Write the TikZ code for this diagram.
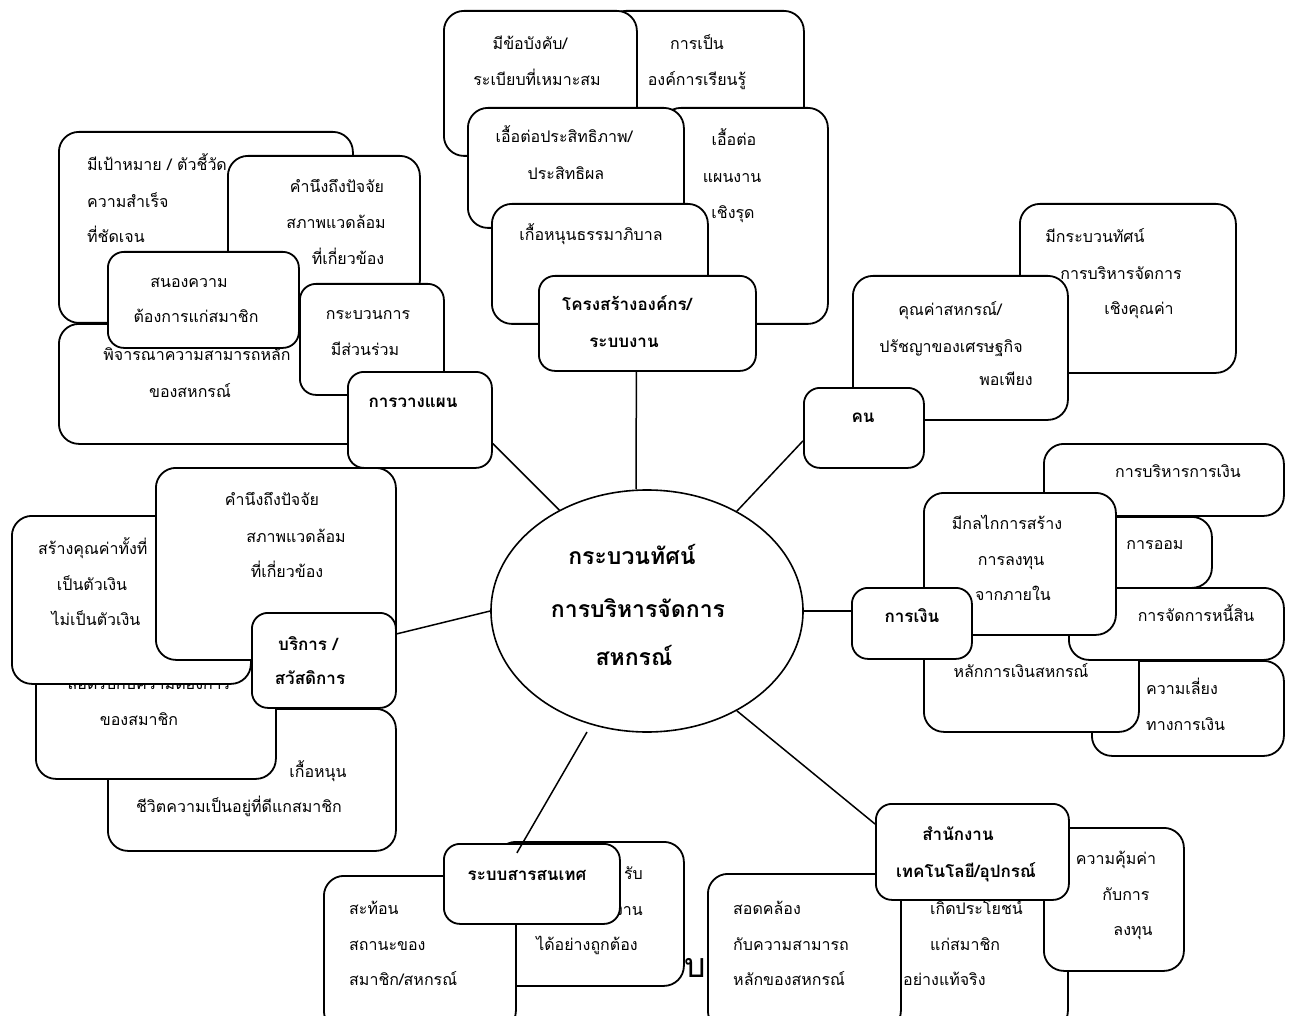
\documentclass[tikz,border=0pt]{standalone}
\usepackage{fontspec}
\setmainfont[Script=Thai]{Loma}
\usetikzlibrary{shapes.geometric}
\tikzset{
  box/.style={draw, fill=white, rounded corners=20pt, line width=1.8pt, inner sep=0pt, anchor=north west},
  txt/.style={inner sep=0pt, font=\fontsize{16}{18}\selectfont, anchor=mid},
  txtl/.style={txt, anchor=mid west},
  txtr/.style={txt, anchor=mid east},
  htxt/.style={txt, font=\fontsize{17}{19}\selectfont\bfseries},
  ctxt/.style={txt, font=\fontsize{23}{26}\selectfont\bfseries},
  link/.style={line width=1.5pt},
}
% rounded box: [options]{name}{left}{top}{right}{bottom}
\newcommand\rbox[6][]{\node[box,#1,minimum width={(#5-#3)*1pt},minimum height={(#6-#4)*1pt}] (#2) at (#3,#4) {};}
\begin{document}
\begin{tikzpicture}[x=1pt,y=-1pt]
\useasboundingbox (0,0) rectangle (1293,1016);
\fill[white] (0,0) rectangle (1293,1016);
\clip (0,0) rectangle (1293,1016);

% ---- structure / system cluster (top)
\rbox{b2}{605}{10}{803}{130}
\node[txt] (b2a) at (697,47) {การเป็น};
\node[txt] (b2b) at (697,83) {องค์การเรียนรู้};
\rbox{b1}{443}{10}{636}{155}
\node[txt] (b1a) at (530,47) {มีข้อบังคับ/};
\node[txt] (b1b) at (537,83) {ระเบียบที่เหมาะสม};
\rbox{b3}{660}{107}{827}{323}
\node[txt] (b3a) at (734,143) {เอื้อต่อ};
\node[txt] (b3b) at (732,180) {แผนงาน};
\node[txt] (b3c) at (733,216) {เชิงรุด};
\rbox{b4}{467}{107}{683}{227}
\node[txt] (b4a) at (564,140) {เอื้อต่อประสิทธิภาพ/};
\node[txt] (b4b) at (566,177) {ประสิทธิผล};
\rbox{b5}{491}{203}{707}{323}
\node[txt] (b5a) at (591,238) {เกื้อหนุนธรรมาภิบาล};
\rbox[rounded corners=16pt]{org}{538}{275}{755}{370}
\node[htxt] (orga) at (627,308) {โครงสร้างองค์กร/};
\node[htxt] (orgb) at (624,345) {ระบบงาน};

% ---- planning cluster (upper left)
\rbox{l1}{58}{131}{352}{322}
\node[txtl] (l1a) at (87,168) {มีเป้าหมาย / ตัวชี้วัด};
\node[txtl] (l1b) at (87,205) {ความสำเร็จ};
\node[txtl] (l1c) at (87,240) {ที่ชัดเจน};
\rbox{l2}{227}{155}{419}{300}
\node[txt] (l2a) at (337,190) {คำนึงถึงปัจจัย};
\node[txt] (l2b) at (336,226) {สภาพแวดล้อม};
\node[txt] (l2c) at (348,262) {ที่เกี่ยวข้อง};
\rbox{l4}{58}{323}{380}{443}
\node[txt] (l4a) at (197,358) {พิจารณาความสามารถหลัก};
\node[txt] (l4b) at (190,395) {ของสหกรณ์};
\rbox[rounded corners=16pt]{l3}{107}{251}{298}{347}
\node[txt] (l3a) at (189,285) {สนองความ};
\node[txt] (l3b) at (196,320) {ต้องการแก่สมาชิก};
\rbox[rounded corners=16pt]{l5}{299}{283}{443}{394}
\node[txt] (l5a) at (368,317) {กระบวนการ};
\node[txt] (l5b) at (365,353) {มีส่วนร่วม};
\rbox[rounded corners=16pt]{plan}{347}{371}{491}{467}
\node[htxt] (plana) at (413,405) {การวางแผน};

% ---- people cluster (upper right)
\rbox{r1}{1019}{203}{1235}{372}
\node[txt] (r1a) at (1095,240) {มีกระบวนทัศน์};
\node[txt] (r1b) at (1121,277) {การบริหารจัดการ};
\node[txt] (r1c) at (1139,312) {เชิงคุณค่า};
\rbox{r2}{852}{275}{1067}{419}
\node[txt] (r2a) at (950,313) {คุณค่าสหกรณ์/};
\node[txt] (r2b) at (951,350) {ปรัชญาของเศรษฐกิจ};
\node[txt] (r2c) at (1006,383) {พอเพียง};
\rbox[rounded corners=16pt]{ppl}{803}{387}{923}{467}
\node[htxt] (ppla) at (863,420) {คน};

% ---- finance cluster (right)
\rbox{f1}{1043}{443}{1283}{515}
\node[txt] (f1a) at (1178,475) {การบริหารการเงิน};
\rbox{f3}{1080}{516}{1211}{587}
\node[txt] (f3a) at (1155,547) {การออม};
\rbox{f6}{1091}{660}{1283}{755}
\node[txtl] (f6a) at (1146,692) {ความเลี่ยง};
\node[txtl] (f6b) at (1146,728) {ทางการเงิน};
\rbox{f5}{923}{600}{1138}{731}
\node[txt] (f5a) at (1021,675) {หลักการเงินสหกรณ์};
\rbox{f4}{1068}{587}{1283}{659}
\node[txt] (f4a) at (1196,619) {การจัดการหนี้สิน};
\rbox{f2}{923}{492}{1115}{634}
\node[txt] (f2a) at (1007,527) {มีกลไกการสร้าง};
\node[txt] (f2b) at (1011,563) {การลงทุน};
\node[txt] (f2c) at (1013,598) {จากภายใน};
\rbox[rounded corners=16pt]{fin}{851}{587}{971}{658}
\node[htxt] (fina) at (912,620) {การเงิน};

% ---- service / welfare cluster (left)
\rbox{s4}{107}{708}{395}{850}
\node[txt] (s4a) at (318,775) {เกื้อหนุน};
\node[txt] (s4b) at (239,810) {ชีวิตความเป็นอยู่ที่ดีแกสมาชิก};
\rbox{s3}{35}{640}{275}{778}
\node[txt] (s3a) at (149,687) {สอดรับกับความต้องการ};
\node[txt] (s3b) at (139,723) {ของสมาชิก};
\rbox{s2}{11}{515}{250}{683}
\node[txtl] (s2a) at (38,552) {สร้างคุณค่าทั้งที่};
\node[txt] (s2b) at (92,588) {เป็นตัวเงิน};
\node[txt] (s2c) at (96,623) {ไม่เป็นตัวเงิน};
\rbox{s1}{155}{467}{395}{659}
\node[txt] (s1a) at (272,503) {คำนึงถึงปัจจัย};
\node[txt] (s1b) at (296,540) {สภาพแวดล้อม};
\node[txt] (s1c) at (287,575) {ที่เกี่ยวข้อง};
\rbox[rounded corners=16pt]{serv}{251}{612}{395}{707}
\node[htxt] (serva) at (308,648) {บริการ /};
\node[htxt] (servb) at (310,682) {สวัสดิการ};

% ---- information system cluster (bottom)
\rbox{i1}{495}{841}{683}{985}
\node[txtr] (i1a) at (643,877) {รับ};
\node[txtr] (i1b) at (643,913) {งาน};
\node[txt] (i1c) at (587,948) {ได้อย่างถูกต้อง};
\rbox{i2}{323}{875}{515}{1030}
\node[txtl] (i2a) at (349,912) {สะท้อน};
\node[txtl] (i2b) at (349,948) {สถานะของ};
\node[txtl] (i2c) at (349,983) {สมาชิก/สหกรณ์};
\rbox[rounded corners=16pt]{info}{443}{843}{619}{923}
\node[htxt] (infoa) at (527,878) {ระบบสารสนเทศ};

% ---- office / technology cluster (bottom right)
\node[inner sep=0pt, anchor=base west, font=\fontsize{34}{36}\selectfont] (stray) at (684,977) {บ};
\rbox{t2}{880}{880}{1067}{1030}
\node[txtl] (t2a) at (930,912) {เกิดประโยชน์};
\node[txtl] (t2b) at (930,948) {แก่สมาชิก};
\node[txtl] (t2c) at (903,983) {อย่างแท้จริง};
\rbox{t3}{1043}{827}{1183}{970}
\node[txt] (t3a) at (1116,862) {ความคุ้มค่า};
\node[txt] (t3b) at (1126,898) {กับการ};
\node[txt] (t3c) at (1133,933) {ลงทุน};
\rbox{t1}{707}{873}{900}{1030}
\node[txtl] (t1a) at (733,912) {สอดคล้อง};
\node[txtl] (t1b) at (733,948) {กับความสามารถ};
\node[txtl] (t1c) at (733,983) {หลักของสหกรณ์};
\rbox[rounded corners=16pt]{tech}{875}{803}{1068}{899}
\node[htxt] (techa) at (958,838) {สำนักงาน};
\node[htxt] (techb) at (966,875) {เทคโนโลยี/อุปกรณ์};

% ---- central idea
\node[draw, ellipse, line width=1.6pt, fill=white, inner sep=0pt,
      minimum width=312pt, minimum height=242pt] (core) at (647,611) {};
\node[ctxt] (corea) at (632,562) {กระบวนทัศน์};
\node[ctxt] (coreb) at (638,615) {การบริหารจัดการ};
\node[ctxt] (corec) at (634,663) {สหกรณ์};

% ---- spokes
\draw[link] ([xshift=-11pt]org.south) -- ([xshift=-11pt]core.north);
\draw[link] (plan.-18) -- (core.131);
\draw[link] (ppl.192) -- (core.48);
\draw[link] (core.east) -- (fin.west |- core.east);
\draw[link] (serv.20) -- (core.west);
\draw[link] ([shift={(-60,121)}]core.center) -- ([shift={(-15,-31)}]info.center);
\draw[link] (core.-48) -- (tech.164);
\end{tikzpicture}
\end{document}
